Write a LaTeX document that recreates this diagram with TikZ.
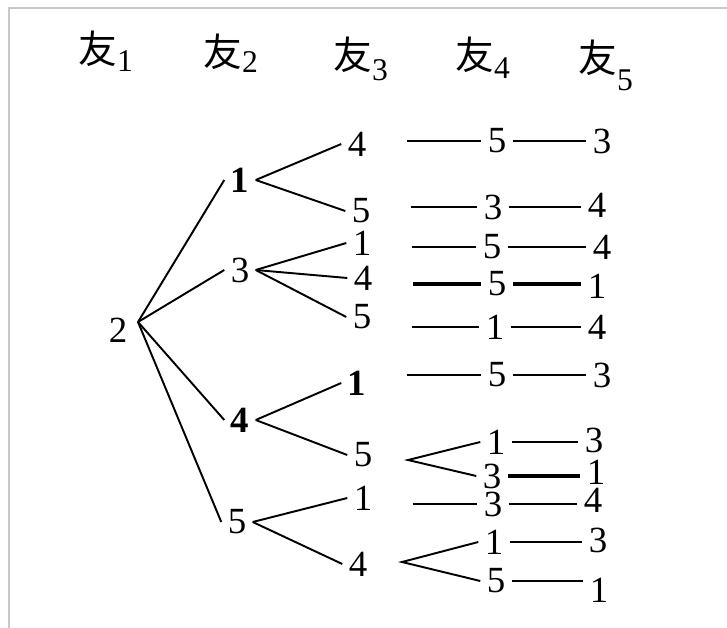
\documentclass[tikz,border=0pt]{standalone}
\usepackage{fontspec}
\setmainfont{Liberation Serif}
\newfontfamily\cjk{Noto Sans CJK SC}
\definecolor{frameGray}{RGB}{200,200,200}
\newcommand{\numfont}{\fontsize{21}{21}\selectfont}
\newcommand{\hd}[2]{{\cjk\fontsize{22}{22}\selectfont 友}\raisebox{-#2}{\fontsize{18}{18}\selectfont #1}}

\begin{document}
\begin{tikzpicture}[x=0.02cm, y=-0.02cm,
    num/.style={font=\numfont, inner sep=3.5pt},
    bnum/.style={font=\numfont\bfseries, inner sep=3.5pt},
    head/.style={anchor=base west, inner sep=0pt},
    edge/.style={line width=1.1pt},
    heavy/.style={line width=2pt}]
        \useasboundingbox (0,0) rectangle (727,628);

        % Frame
        \draw[frameGray, line width=1.2pt] (9,628) -- (9,8) -- (727,8);

        % Column heads
        \node[head] (h1) at (78,64) {\hd{1}{4pt}};
        \node[head] (h2) at (203,67) {\hd{2}{3pt}};
        \node[head] (h3) at (333,70) {\hd{3}{6pt}};
        \node[head] (h4) at (455,70) {\hd{4}{5pt}};
        \node[head] (h5) at (578,73) {\hd{5}{10pt}};

        % Friend 1
        \node[num] (f1) at (118,330) {2};
        \coordinate (hub) at (138,322);

        % Friend 2
        \node[bnum] (f2a) at (240,180) {1};
        \node[num] (f2b) at (240,270) {3};
        \node[bnum] (f2c) at (240,420) {4};
        \node[num] (f2d) at (237,522) {5};
        \draw[edge] (hub) -- (f2a.west);
        \draw[edge] (hub) -- (f2b.west);
        \draw[edge] (hub) -- (f2c.west);
        \draw[edge] (hub) -- (f2d.west);

        % Friend 3
        \node[num] (f3a) at (357,144) {4};
        \node[num] (f3b) at (361,211) {5};
        \node[num] (f3c) at (362,243) {1};
        \node[num] (f3d) at (363,278) {4};
        \node[num] (f3e) at (362,317) {5};
        \node[bnum] (f3f) at (357,383) {1};
        \node[num] (f3g) at (363,455) {5};
        \node[num] (f3h) at (363,498) {1};
        \node[num] (f3i) at (358,564) {4};
        \draw[edge] (f2a.east) -- (f3a.west);
        \draw[edge] (f2a.east) -- (f3b.west);
        \draw[edge] (f2b.east) -- (f3c.west);
        \draw[edge] (f2b.east) -- (f3d.west);
        \draw[edge] (f2b.east) -- (f3e.west);
        \draw[edge] (f2c.east) -- (f3f.west);
        \draw[edge] (f2c.east) -- (f3g.west);
        \draw[edge] (f2d.east) -- (f3h.west);
        \draw[edge] (f2d.east) -- (f3i.west);

        % Friend 4
        \node[num] (f4a) at (497,141) {5};
        \node[num] (f4b) at (493,207) {3};
        \node[num] (f4c) at (492,247) {5};
        \node[num] (f4d) at (497,284) {5};
        \node[num] (f4e) at (495,327) {1};
        \node[num] (f4f) at (497,375) {5};
        \node[num] (f4g) at (496,442) {1};
        \node[num] (f4h) at (492,476) {3};
        \node[num] (f4k) at (493,504) {3};
        \node[num] (f4m) at (494,542) {1};
        \node[num] (f4n) at (496,581) {5};
        \draw[edge, shorten <=0.68cm] (f3a.east |- f4a.west) -- (f4a.west);
        \draw[edge, shorten <=0.68cm] (f3b.east |- f4b.west) -- (f4b.west);
        \draw[edge, shorten <=0.68cm] (f3c.east |- f4c.west) -- (f4c.west);
        \draw[heavy, shorten <=0.68cm] (f3d.east |- f4d.west) -- (f4d.west);
        \draw[edge, shorten <=0.68cm] (f3e.east |- f4e.west) -- (f4e.west);
        \draw[edge, shorten <=0.68cm] (f3f.east |- f4f.west) -- (f4f.west);
        \draw[edge, shorten <=0.68cm] (f3h.east |- f4k.west) -- (f4k.west);

        % Forks
        \coordinate (forkg) at (408,460);
        \coordinate (forki) at (402,562);
        \draw[edge] (f4g.west) -- (forkg) -- (f4h.west);
        \draw[edge] (f4m.west) -- (forki) -- (f4n.west);

        % Friend 5
        \node[num] (f5a) at (602,141) {3};
        \node[num] (f5b) at (597,205) {4};
        \node[num] (f5c) at (602,247) {4};
        \node[num] (f5d) at (597,286) {1};
        \node[num] (f5e) at (597,327) {4};
        \node[num] (f5f) at (602,375) {3};
        \node[num] (f5g) at (594,440) {3};
        \node[num] (f5h) at (596,472) {1};
        \node[num] (f5k) at (593,500) {4};
        \node[num] (f5m) at (598,540) {3};
        \node[num] (f5n) at (599,590) {1};
        \draw[edge] (f4a.east) -- (f5a.west |- f4a.east);
        \draw[edge] (f4b.east) -- (f5b.west |- f4b.east);
        \draw[edge] (f4c.east) -- (f5c.west |- f4c.east);
        \draw[heavy] (f4d.east) -- (f5d.west |- f4d.east);
        \draw[edge] (f4e.east) -- (f5e.west |- f4e.east);
        \draw[edge] (f4f.east) -- (f5f.west |- f4f.east);
        \draw[edge] (f4g.east) -- (f5g.west |- f4g.east);
        \draw[heavy] (f4h.east) -- (f5h.west |- f4h.east);
        \draw[edge] (f4k.east) -- (f5k.west |- f4k.east);
        \draw[edge] (f4m.east) -- (f5m.west |- f4m.east);
        \draw[edge] (f4n.east) -- (f5n.west |- f4n.east);
      \end{tikzpicture}
\end{document}
